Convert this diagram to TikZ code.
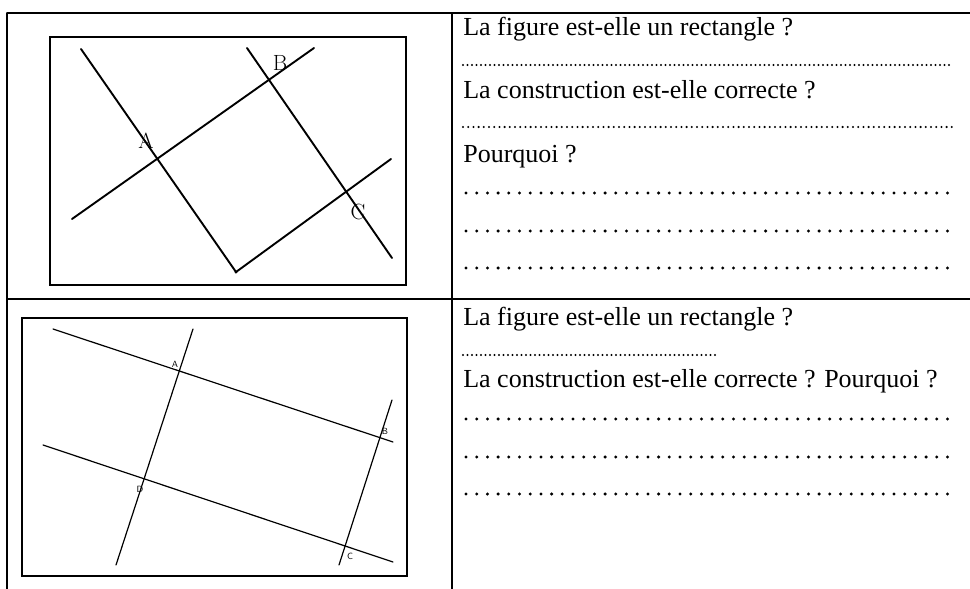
\documentclass[tikz,border=0pt]{standalone}
\usepackage{fontspec}
\newfontfamily\timesfont{Liberation Serif}
\usetikzlibrary{positioning}

\begin{document}
\begin{tikzpicture}[
            x = 1pt, y = -1pt, % one unit per pixel, y going down
            line cap = round,
            semithick % line style
        ]

        \tikzstyle{grid}=[draw = black, line width = 1.3pt]
        \tikzstyle{frame}=[draw = black, line width = 2.4pt]
        \tikzstyle{construct}=[draw = black, line width = 1.9pt]
        \tikzstyle{thin construct}=[draw = black, line width = 1.2pt]
        \tikzstyle{question}=[anchor = base west, inner sep = 0pt,
            font = \timesfont\fontsize{26}{30}\selectfont]
        \tikzstyle{big label}=[inner sep = 0pt, font = \fontsize{22}{24}\selectfont]
        \tikzstyle{small label}=[inner sep = 0pt, font = \sffamily\fontsize{9}{10}\selectfont]
        \tikzstyle{dotsfine}=[line width = 2.1pt, dash pattern = on 0pt off 4.5pt]
        \tikzstyle{dotsmid}=[line width = 2.3pt, dash pattern = on 0pt off 5.2pt]
        \tikzstyle{dotswide}=[line width = 3.3pt, dash pattern = on 0pt off 10.7pt]

        \useasboundingbox (0,0) rectangle (970,589);

        % table
        \draw[grid] (7,13) -- (970,13);
        \draw[grid] (7,299) -- (970,299);
        \draw[grid] (7,13) -- (7,589);
        \draw[grid] (452,13) -- (452,589);

        % first figure
        \draw[frame] (50,37) rectangle (406,285);
        \coordinate (p1) at (81,49);
        \coordinate (p2) at (236,272);
        \coordinate (p3) at (391,159);
        \coordinate (p4) at (72,219);
        \coordinate (p5) at (314,48);
        \coordinate (p6) at (247,48);
        \coordinate (p7) at (392,258);
        \draw[construct] (p1) -- (p2) -- (p3);
        \draw[construct] (p4) -- (p5);
        \draw[construct] (p6) -- (p7);
        \fill (p2) circle (1.6pt);
        \node[big label] (A1) at (146,141) {A};
        \node[big label] (B1) at (280,63) {B};
        \node[big label] (C1) at (358,212) {C};

        % second figure
        \draw[frame] (22,318) rectangle (407,576);
        \coordinate (q1) at (53,329);
        \coordinate (q2) at (393,442);
        \coordinate (q3) at (43,445);
        \coordinate (q4) at (393,562);
        \coordinate (q5) at (193,329);
        \coordinate (q6) at (116,565);
        \coordinate (q7) at (392,400);
        \coordinate (q8) at (339,565);
        \draw[thin construct] (q1) -- (q2);
        \draw[thin construct] (q3) -- (q4);
        \draw[thin construct] (q5) -- (q6);
        \draw[thin construct] (q7) -- (q8);
        \node[small label] (A2) at (175,364) {A};
        \node[small label] (B2) at (385,431) {B};
        \node[small label] (D2) at (140,489) {D};
        \node[small label] (C2) at (350,556) {C};

        % questions, first row
        \node[question] (rect1) at (463,35) {La figure est-elle un rectangle ?};
        \node[question] (constr1) at (463,98) {La construction est-elle correcte ?};
        \node[question] (why1) at (463,162) {Pourquoi ?};
        \draw[dotsfine] (463,65) -- (953,65);
        \draw[dotsmid] (463,127) -- (953,127);

        % questions, second row
        \node[question] (rect2) at (463,325) {La figure est-elle un rectangle ?};
        \node[question] (constr2) at (463,387) {La construction est-elle correcte ? Pourquoi ?};
        \draw[dotsfine] (463,355) -- (718,355);

        \foreach \y in {193,231,268,419,457,494}
            \draw[dotswide] (466,\y) -- (948,\y);

\end{tikzpicture}
\end{document}
